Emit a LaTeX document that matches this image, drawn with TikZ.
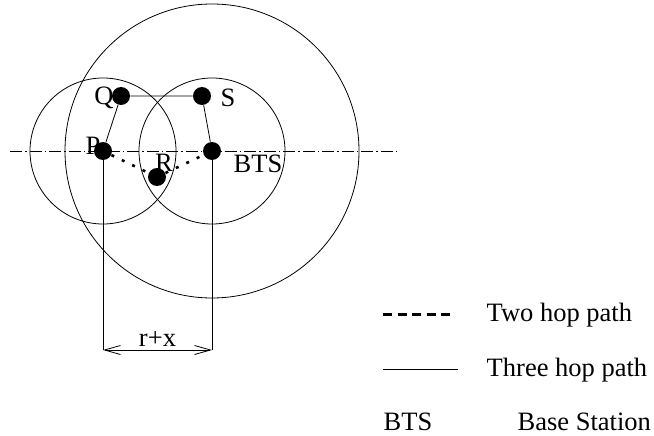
\documentclass[tikz,border=0pt]{standalone}
\usepackage{fontspec}
\setmainfont{Liberation Serif}
\usetikzlibrary{arrows.meta}

\begin{document}
\begin{tikzpicture}[x=1pt,y=-1pt,line width=0.8pt,
    every node/.style={font=\fontsize{26.5}{30}\selectfont},
    station/.style={circle,fill=black,inner sep=0pt,minimum size=18pt},
    twohop/.style={line width=2.6pt,dash pattern=on 3pt off 8.5pt},
    legdash/.style={line width=3pt,dash pattern=on 9pt off 5.5pt},
    axis/.style={dash pattern=on 12pt off 3pt on 1.5pt off 3pt},
    barb/.style={{Straight Barb[length=16pt,width=9pt]}-{Straight Barb[length=16pt,width=9pt]}}]
  \useasboundingbox (0,0) rectangle (654,436);

  % stations
  \node[station] (Q) at (121,96) {};
  \node[station] (S) at (202,96) {};
  \node[station] (P) at (103,151) {};
  \node[station] (BTS) at (212,151) {};
  \node[station] (R) at (157,177) {};

  \node (Qlab) at (104,98) {Q};
  \node (Slab) at (228,98) {S};
  \node (Plab) at (93,146) {P};
  \node (Rlab) at (164,163) {R};
  \node (BTSlab) at (258,164) {BTS};

  % coverage circles
  \draw (BTS.center) circle[radius=147];
  \draw (P.center) circle[radius=73];
  \draw (BTS.center) circle[radius=73];

  \draw[axis] (10,151) -- (396,151);

  % three hop path
  \draw (P) -- (Q) -- (S) -- (BTS);
  % two hop path
  \draw[twohop] (P) -- (R) -- (BTS);

  % distance
  \coordinate (pfoot) at (103,350);
  \coordinate (bfoot) at (212,350);
  \draw (P) -- (pfoot);
  \draw (BTS) -- (bfoot);
  \draw[barb] (pfoot) -- (bfoot) node[midway,above] (dist) {r+x};

  % legend
  \coordinate (twoA) at (383,314);
  \coordinate (twoB) at (450,314);
  \draw[legdash] (twoA) -- (twoB);
  \node[anchor=west] (twotxt) at (483,315) {Two hop path};

  \coordinate (threeA) at (383,369);
  \coordinate (threeB) at (458,369);
  \draw (threeA) -- (threeB);
  \node[anchor=west] (threetxt) at (483,370) {Three hop path};

  \node[anchor=west] (btskey) at (380,422) {BTS};
  \node[anchor=west] (btstxt) at (514,422) {Base Station};
\end{tikzpicture}
\end{document}
